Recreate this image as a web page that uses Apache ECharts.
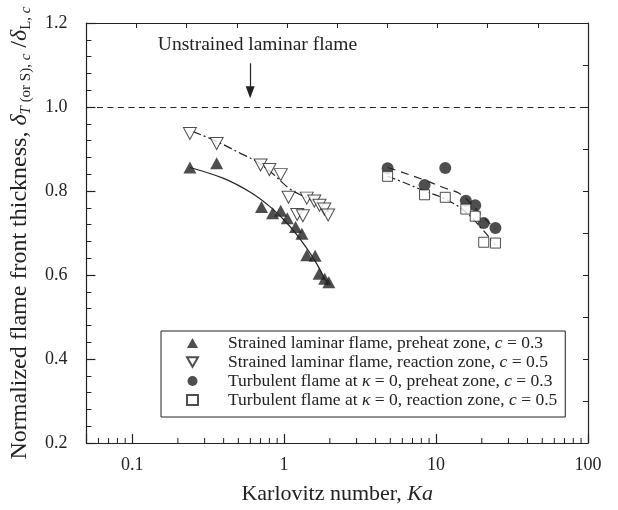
<!DOCTYPE html>
<html><head><meta charset="utf-8">
<script src="https://cdn.jsdelivr.net/npm/echarts@6/dist/echarts.min.js"></script>
<style>html,body{margin:0;padding:0;background:#fff}#c{width:618px;height:510px}</style>
</head><body><div id="c"></div>
<script>
// ---- data ----
const seriesNames = [
  'Strained laminar flame, preheat zone, c = 0.3',
  'Strained laminar flame, reaction zone, c = 0.5',
  'Turbulent flame at κ = 0, preheat zone, c = 0.3',
  'Turbulent flame at κ = 0, reaction zone, c = 0.5'
];
const kaSLpre = [0.24, 0.36, 0.71, 0.84, 0.95, 1.05, 1.19, 1.31, 1.41, 1.60, 1.70, 1.85, 1.97];
const thSLpre = [0.856, 0.866, 0.762, 0.747, 0.753, 0.735, 0.714, 0.698, 0.647, 0.646, 0.603, 0.591, 0.583];
const kaSLrea = [0.24, 0.36, 0.70, 0.80, 0.95, 1.07, 1.22, 1.33, 1.41, 1.58, 1.71, 1.84, 1.95];
const thSLrea = [0.937, 0.913, 0.862, 0.851, 0.839, 0.785, 0.744, 0.741, 0.783, 0.776, 0.766, 0.757, 0.743];
const kaTBpre = [4.8, 8.4, 11.5, 15.7, 18.1, 20.6, 24.6];
const thTBpre = [0.854, 0.814, 0.855, 0.777, 0.766, 0.724, 0.712];
const kaTBrea = [4.8, 8.4, 11.5, 15.7, 18.1, 20.6, 24.6];
const thTBrea = [0.835, 0.791, 0.785, 0.757, 0.740, 0.678, 0.676];
// fit curves
const fitSLpreKa = [0.24, 0.4, 0.6, 0.8, 1.0, 1.2, 1.4, 1.6, 1.8, 1.95];
const fitSLpreTh = [0.856, 0.830, 0.797, 0.764, 0.731, 0.698, 0.665, 0.633, 0.600, 0.575];
const fitSLreaKa = [0.25, 0.36, 0.52, 0.66, 0.85, 1.08, 1.33, 1.69, 1.96];
const fitSLreaTh = [0.942, 0.918, 0.889, 0.870, 0.840, 0.806, 0.788, 0.769, 0.750];
const fitTBpreKa = [4.8, 5.6, 8.4, 11.4, 14.1, 17.1, 20.5, 24.6];
const fitTBpreTh = [0.856, 0.848, 0.826, 0.807, 0.795, 0.769, 0.738, 0.709];
const fitTBreaKa = [4.8, 5.6, 8.4, 11.5, 15.7, 20.6, 24.6];
const fitTBreaTh = [0.835, 0.826, 0.800, 0.781, 0.750, 0.705, 0.672];
// axes
const xMin = 0.05, xMax = 100;
const xTickLabels = [0.1, 1, 10, 100];
const xMinorTicks = [0.06,0.07,0.08,0.09, 0.2,0.3,0.4,0.5,0.6,0.7,0.8,0.9, 2,3,4,5,6,7,8,9, 20,30,40,50,60,70,80,90];
const yMin = 0.2, yMax = 1.2, yStep = 0.2;
const unstrainedValue = 1.0;
const annotationText = 'Unstrained laminar flame';
const annotationAt = [0.668, 1.148];
const arrowKa = 0.598, arrowFrom = 1.104, arrowTo = 1.035;

// ---- chart ----
const FF = "'Liberation Serif','Times New Roman',serif";
const INK = '#222';
const zip = (a, b) => a.map((v, i) => [v, b[i]]);
const LH = 19.5;
const legendRich = {
  p: {width: 25, fontFamily: FF, fontSize: 17.5, lineHeight: LH},
  n: {fontFamily: FF, fontSize: 17.5, color: INK, lineHeight: LH},
  i: {fontFamily: FF, fontSize: 17.5, color: INK, fontStyle: 'italic', lineHeight: LH}
};
const legendFmt = {};
legendFmt[seriesNames[0]] = '{p| }{n|Strained laminar flame, preheat zone, }{i|c}{n| = 0.3}';
legendFmt[seriesNames[1]] = '{p| }{n|Strained laminar flame, reaction zone, }{i|c}{n| = 0.5}';
legendFmt[seriesNames[2]] = '{p| }{n|Turbulent flame at }{i|κ}{n| = 0, preheat zone, }{i|c}{n| = 0.3}';
legendFmt[seriesNames[3]] = '{p| }{n|Turbulent flame at }{i|κ}{n| = 0, reaction zone, }{i|c}{n| = 0.5}';

const chart = echarts.init(document.getElementById('c'), null, {renderer: 'canvas'});
const findLabel = v => xTickLabels.find(t => Math.abs(t - v) / t < 1e-6);
const fitLine = (ka, th, type) => ({
  type: 'line', data: zip(ka, th), smooth: 0.35, showSymbol: false, symbol: 'none',
  silent: true, z: 1, lineStyle: {color: INK, width: 1.2, type: type}
});

chart.setOption({
  animation: false,
  backgroundColor: '#fff',
  grid: {left: 80, right: 30, top: 23, bottom: 65},
  xAxis: [{
    type: 'log', logBase: 10, min: xMin, max: xMax,
    name: '{n|Karlovitz number, }{i|Ka}', nameLocation: 'middle', nameGap: 40,
    nameTextStyle: {rich: {
      n: {fontFamily: FF, fontSize: 22, color: INK},
      i: {fontFamily: FF, fontSize: 22, color: INK, fontStyle: 'italic'}
    }},
    axisLine: {lineStyle: {color: INK, width: 1.2}},
    axisTick: {inside: true, length: 9, lineStyle: {color: INK, width: 1.2}},
    minorTick: {show: false},
    splitLine: {show: false},
    axisLabel: {
      margin: 13, fontFamily: FF, fontSize: 18, color: INK,
      formatter: v => { const t = findLabel(v); return t === undefined ? '' : String(t); }
    }
  }, {
    type: 'value', position: 'top', min: 0, max: 10, interval: 1,
    axisLine: {show: true, lineStyle: {color: INK, width: 1.2}},
    axisTick: {show: true, inside: true, length: 5, lineStyle: {color: INK, width: 1}},
    axisLabel: {show: false}, splitLine: {show: false}
  }],
  yAxis: [{
    type: 'value', min: yMin, max: yMax, interval: yStep,
    name: '{n|Normalized flame front thickness, }{i|δ}{si|T}{s| (or S), }{si|c}{n| /}{i|δ}{s|L, }{si|c}',
    nameLocation: 'middle', nameGap: 47, nameRotate: 90,
    nameTextStyle: {rich: {
      n: {fontFamily: FF, fontSize: 24, color: INK, lineHeight: 28},
      i: {fontFamily: FF, fontSize: 24, color: INK, fontStyle: 'italic', lineHeight: 28},
      s: {fontFamily: FF, fontSize: 15, color: INK, lineHeight: 15, verticalAlign: 'bottom'},
      si: {fontFamily: FF, fontSize: 15, color: INK, fontStyle: 'italic', lineHeight: 15, verticalAlign: 'bottom'}
    }},
    axisLine: {show: true, lineStyle: {color: INK, width: 1.2}},
    axisTick: {show: true, inside: true, length: 9, lineStyle: {color: INK, width: 1.2}},
    minorTick: {show: true, splitNumber: 5, length: 5, lineStyle: {color: INK, width: 1}},
    splitLine: {show: false},
    axisLabel: {margin: 19, fontFamily: FF, fontSize: 18, color: INK, formatter: v => v.toFixed(1)}
  }, {
    type: 'value', position: 'right', min: yMin, max: yMax, interval: 0.1,
    axisLine: {show: true, lineStyle: {color: INK, width: 1.2}},
    axisTick: {show: true, inside: true, length: 5, lineStyle: {color: INK, width: 1}},
    axisLabel: {show: false}, splitLine: {show: false}
  }],
  legend: {
    orient: 'vertical', left: 161, top: 331,
    data: [
      {name: seriesNames[0], icon: 'triangle'},
      {name: seriesNames[1], icon: 'path://M0,0L12,0L6,10.5Z'},
      {name: seriesNames[2], icon: 'circle'},
      {name: seriesNames[3], icon: 'rect'}
    ],
    itemWidth: 11, itemHeight: 10, itemGap: 1,
    padding: [3, 8, 8, 25], borderColor: INK, borderWidth: 1, backgroundColor: '#fff',
    textStyle: {fontFamily: FF, fontSize: 17.5, color: INK, rich: legendRich},
    formatter: name => legendFmt[name],
    selectedMode: false
  },
  series: [
    Object.assign(fitLine(fitSLpreKa, fitSLpreTh, 'solid'), {
      markLine: {
        silent: true, animation: false, label: {show: false},
        symbol: ['none', 'none'],
        data: [
          {yAxis: unstrainedValue, lineStyle: {color: INK, width: 1.2, type: [6, 4.5]}},
          [{coord: [arrowKa, arrowFrom], symbol: 'none'},
           {coord: [arrowKa, arrowTo], symbol: 'triangle', symbolSize: [9, 12]}]
        ],
        lineStyle: {color: INK, width: 1.2, type: 'solid'},
        itemStyle: {color: INK}
      },
      markPoint: {
        silent: true, symbol: 'circle', symbolSize: 0,
        label: {show: true, position: 'inside', formatter: annotationText, fontFamily: FF, fontSize: 19.5, color: INK},
        data: [{coord: annotationAt}]
      }
    }),
    fitLine(fitSLreaKa, fitSLreaTh, [9, 3, 2, 3]),
    fitLine(fitTBpreKa, fitTBpreTh, [8, 6]),
    fitLine(fitTBreaKa, fitTBreaTh, [8, 3, 2, 3]),
    {
      name: seriesNames[0], type: 'scatter', data: zip(kaSLpre, thSLpre), z: 3,
      symbol: 'triangle', symbolSize: [13, 12], itemStyle: {color: INK}
    },
    {
      name: seriesNames[1], type: 'scatter', data: zip(kaSLrea, thSLrea), z: 3,
      symbol: 'triangle', symbolRotate: 180, symbolSize: [13, 12],
      itemStyle: {color: '#fff', borderColor: INK, borderWidth: 1}
    },
    {
      name: seriesNames[2], type: 'scatter', data: zip(kaTBpre, thTBpre), z: 3,
      symbol: 'circle', symbolSize: 12, itemStyle: {color: INK}
    },
    {
      name: seriesNames[3], type: 'scatter', data: zip(kaTBrea, thTBrea), z: 3,
      symbol: 'rect', symbolSize: 10,
      itemStyle: {color: '#fff', borderColor: INK, borderWidth: 1}
    },
    {
      type: 'custom', silent: true, z: 5,
      data: xMinorTicks.map(v => [v, yMin]),
      encode: {x: 0, y: 1},
      renderItem: (params, api) => {
        const p = api.coord([api.value(0), api.value(1)]);
        return {type: 'line', shape: {x1: p[0], y1: p[1], x2: p[0], y2: p[1] - 5},
                style: {stroke: INK, lineWidth: 1}};
      }
    }
  ]
});
</script></body></html>
